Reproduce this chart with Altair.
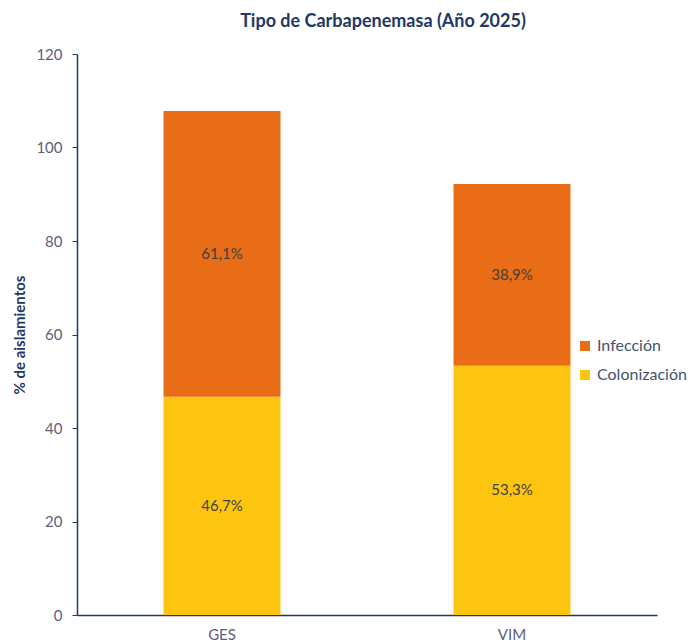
import altair as alt
import pandas as pd

categories = ["GES", "VIM"]
series = ["Colonización", "Infección"]
colonizacion = [46.7, 53.3]
infeccion = [61.1, 38.9]
labels_col = ["46,7%", "53,3%"]
labels_inf = ["61,1%", "38,9%"]

rows = []
for i, c in enumerate(categories):
    rows.append({"cat": c, "serie": "Colonización", "val": colonizacion[i], "lab": labels_col[i], "ord": 0})
    rows.append({"cat": c, "serie": "Infección", "val": infeccion[i], "lab": labels_inf[i], "ord": 1})
df = pd.DataFrame(rows)

FONT = "Lato"
NAVY = "#1F3864"
GRAY = "#5A6275"

base = alt.Chart(df).encode(
    x=alt.X("cat:N", sort=categories, title=None,
            scale=alt.Scale(paddingInner=0.6, paddingOuter=0.3),
            axis=alt.Axis(labelAngle=0, ticks=False, domain=True, domainColor=NAVY,
                          domainWidth=1.5, labelFont=FONT,
                          labelFontSize=15, labelColor=GRAY, labelPadding=12)),
)

bars = base.mark_bar(size=117).encode(
    y=alt.Y("val:Q", stack="zero", title="% de aislamientos",
            scale=alt.Scale(domain=[0, 120]),
            axis=alt.Axis(values=[0, 20, 40, 60, 80, 100, 120], grid=False,
                          domainColor=NAVY, domainWidth=1.5, tickColor=NAVY, tickSize=5,
                          labelFont=FONT, labelFontSize=15, labelColor=GRAY,
                          labelPadding=10, titleFont=FONT, titleFontSize=15,
                          titleFontWeight="bold", titleColor=NAVY, titlePadding=8)),
    color=alt.Color("serie:N", sort=["Infección", "Colonización"],
                    scale=alt.Scale(domain=["Infección", "Colonización"],
                                    range=["#E96C17", "#FEC510"]),
                    legend=alt.Legend(title=None, orient="none", legendX=500, legendY=284,
                                      symbolType="square", symbolSize=100, symbolStrokeWidth=0,
                                      labelFont=FONT, labelFontSize=16, labelColor="#44546A",
                                      rowPadding=13, labelOffset=4)),
    order=alt.Order("ord:Q"),
)

text = base.mark_text(font=FONT, fontSize=15, color="#404040").encode(
    y=alt.Y("mid:Q"),
    text="lab:N",
).transform_stack(
    stack="val", groupby=["cat"], sort=[alt.SortField("ord")], as_=["y0", "y1"]
).transform_calculate(mid="(datum.y0 + datum.y1) / 2")

chart = alt.layer(bars, text).properties(
    width=580, height=561,
    title=alt.Title("Tipo de Carbapenemasa (Año 2025)", font=FONT, fontSize=18,
                    fontWeight="bold", color=NAVY, offset=16, dx=16),
    autosize=alt.AutoSizeParams(type="none"),
    padding={"left": 77, "top": 54, "right": 39, "bottom": 29},
).configure_view(stroke=None)

chart.save("out.html", embed_options={"renderer": "svg", "actions": False})
